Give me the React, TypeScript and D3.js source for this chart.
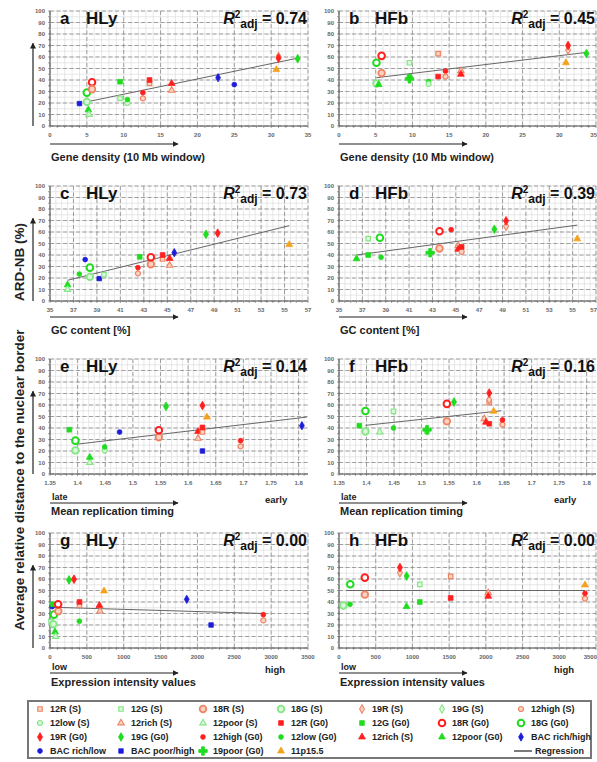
import React from "react";
import * as d3 from "d3";

type Pt = [string, number, number];

// legend order (keys) and the labels printed in the legend
const seriesKeys = [
  "12R (S)", "12G (S)", "18R (S)", "18G (S)", "19R (S)", "19G (S)", "12high (S)",
  "12low (S)", "12rich (S)", "12poor (S)", "12R (G0)", "12G (G0)", "18R (G0)", "18G (G0)",
  "19R (G0)", "19G (G0)", "12high (G0)", "12low (G0)", "12rich (G0)", "12poor (G0)", "BAC rich/high",
  "BAC rich/low", "BAC poor/high", "19poor (G0)", "11p15.5",
];
const legendLabels = [
  "12R (S)", "12G (S)", "18R (S)", "18G (S)", "19R (S)", "19G (S)", "12high (S)",
  "12low (S)", "12rich (S)", "12poor (S)", "12R (G0)", "12G (G0)", "18R (G0)", "18G (G0)",
  "19R (G0)", "19G (G0)", "12high (G0)", "12low (G0)", "12rich (S)", "12poor (G0)", "BAC rich/high",
  "BAC rich/low", "BAC poor/high", "19poor (G0)", "11p15.5",
];

// a: HLy vs gene density
const hlyGene: Pt[] = [
  ["BAC poor/high", 4.0, 19.5], ["18G (G0)", 5.0, 29], ["18G (S)", 5.0, 21],
  ["12poor (G0)", 5.2, 14], ["12poor (S)", 5.3, 10], ["18R (G0)", 5.7, 38], ["18R (S)", 5.7, 32],
  ["12G (S)", 9.5, 24], ["12G (G0)", 9.5, 38.5], ["12low (S)", 10.5, 20], ["12low (G0)", 10.5, 23],
  ["12high (S)", 12.6, 24], ["12high (G0)", 12.6, 29], ["12R (S)", 13.5, 37], ["12R (G0)", 13.5, 40],
  ["12rich (S)", 16.5, 31], ["12rich (G0)", 16.5, 37], ["BAC rich/high", 22.8, 42],
  ["BAC rich/low", 25.0, 36], ["11p15.5", 30.7, 49], ["19R (S)", 31.0, 60.5],
  ["19R (G0)", 31.0, 59], ["19G (G0)", 33.6, 58.5],
];
// b: HFb vs gene density
const hfbGene: Pt[] = [
  ["18G (G0)", 5.1, 55], ["18G (S)", 5.1, 37], ["12poor (G0)", 5.4, 36], ["18R (G0)", 5.8, 61],
  ["18R (S)", 5.8, 46], ["12G (S)", 9.6, 55], ["12G (G0)", 9.6, 42.5], ["19poor (G0)", 9.6, 41],
  ["12low (G0)", 12.2, 38.7], ["12low (S)", 12.2, 36.6], ["12R (S)", 13.5, 63], ["12R (G0)", 13.5, 43],
  ["12high (G0)", 14.5, 47.7], ["12high (S)", 14.5, 43], ["12rich (S)", 16.6, 48],
  ["12rich (G0)", 16.6, 45], ["11p15.5", 30.9, 55], ["19R (S)", 31.2, 66], ["19R (G0)", 31.2, 70],
  ["19G (G0)", 33.7, 63],
];
// c: HLy vs GC content
const hlyGC: Pt[] = [
  ["12poor (G0)", 36.5, 14], ["12poor (S)", 36.5, 10], ["12low (G0)", 37.5, 23.4],
  ["BAC rich/low", 38.0, 36], ["18G (G0)", 38.4, 29], ["18G (S)", 38.4, 21],
  ["BAC poor/high", 39.2, 19.5], ["12G (S)", 39.6, 23], ["12high (S)", 42.5, 24],
  ["12high (G0)", 42.5, 29], ["12G (G0)", 42.65, 38.4], ["18R (S)", 43.6, 32], ["18R (G0)", 43.6, 38],
  ["12R (S)", 44.6, 36.5], ["12R (G0)", 44.6, 40], ["12rich (S)", 45.2, 31], ["12rich (G0)", 45.2, 37],
  ["BAC rich/high", 45.6, 42], ["19G (G0)", 48.3, 58], ["19R (G0)", 49.3, 59], ["11p15.5", 55.4, 49],
];
// d: HFb vs GC content
const hfbGC: Pt[] = [
  ["12poor (G0)", 36.5, 36.7], ["12G (S)", 37.5, 54.3], ["12G (G0)", 37.5, 40],
  ["18G (G0)", 38.5, 55], ["12low (G0)", 38.6, 38], ["19poor (G0)", 42.8, 42],
  ["18R (S)", 43.6, 45.7], ["18R (G0)", 43.6, 60.7], ["12high (G0)", 44.6, 62],
  ["12rich (S)", 45.2, 48], ["12rich (G0)", 45.2, 45], ["12high (S)", 45.5, 42.8],
  ["12R (G0)", 45.5, 47], ["19G (G0)", 48.3, 62.4], ["19R (S)", 49.3, 65], ["19R (G0)", 49.3, 69.7],
  ["11p15.5", 55.4, 54],
];
// e: HLy vs replication timing
const hlyRep: Pt[] = [
  ["12G (G0)", 1.385, 38.5], ["18G (S)", 1.396, 20.5], ["18G (G0)", 1.396, 29],
  ["12poor (S)", 1.422, 10], ["12poor (G0)", 1.422, 14.5], ["12low (S)", 1.449, 20.5],
  ["12low (G0)", 1.449, 23.5], ["BAC rich/low", 1.476, 36.5], ["18R (S)", 1.547, 32],
  ["18R (G0)", 1.547, 38], ["19G (G0)", 1.56, 58.8], ["12rich (S)", 1.618, 31],
  ["12rich (G0)", 1.618, 37], ["12R (S)", 1.626, 36.5], ["12R (G0)", 1.626, 40.5],
  ["19R (G0)", 1.626, 59.5], ["BAC poor/high", 1.626, 20], ["11p15.5", 1.634, 49.5],
  ["12high (S)", 1.695, 24], ["12high (G0)", 1.695, 29], ["BAC rich/high", 1.806, 42],
];
// f: HFb vs replication timing
const hfbRep: Pt[] = [
  ["12G (G0)", 1.387, 42], ["18G (S)", 1.398, 37], ["18G (G0)", 1.398, 54.8],
  ["12poor (S)", 1.424, 36.5], ["12G (S)", 1.449, 54.5], ["12low (G0)", 1.449, 40],
  ["12low (S)", 1.51, 36.5], ["19poor (G0)", 1.51, 38.5], ["18R (S)", 1.546, 45.8],
  ["18R (G0)", 1.546, 61], ["19G (G0)", 1.559, 62.6], ["12rich (S)", 1.614, 48],
  ["12rich (G0)", 1.617, 45], ["12R (G0)", 1.623, 43.7], ["12R (S)", 1.623, 62],
  ["19R (S)", 1.623, 64.5], ["19R (G0)", 1.623, 70.4], ["11p15.5", 1.631, 54.5],
  ["12high (S)", 1.647, 43], ["12high (G0)", 1.647, 47],
];
// g: HLy vs expression intensity
const hlyExpr: Pt[] = [
  ["12G (S)", 14, 23], ["BAC rich/low", 30, 36], ["12G (G0)", 40, 38], ["18G (S)", 45, 20.7],
  ["18G (G0)", 54, 29], ["12poor (G0)", 68, 14], ["12poor (S)", 77, 10], ["18R (S)", 113, 32],
  ["18R (G0)", 110, 38], ["19G (G0)", 258, 59.2], ["19R (G0)", 326, 59.8], ["12low (G0)", 398, 23.3],
  ["12R (S)", 400, 37], ["12R (G0)", 400, 40], ["12rich (S)", 678, 32], ["12rich (G0)", 670, 37],
  ["11p15.5", 733, 49.6], ["BAC rich/high", 1855, 42.3], ["BAC poor/high", 2185, 20],
  ["12high (S)", 2894, 24], ["12high (G0)", 2894, 29],
];
// h: HFb vs expression intensity
const hfbExpr: Pt[] = [
  ["18G (S)", 60, 37], ["12low (G0)", 150, 38], ["18G (G0)", 153, 55.4], ["18R (S)", 352, 46.4],
  ["18R (G0)", 352, 61.2], ["19R (S)", 830, 65.5], ["19R (G0)", 830, 70], ["12poor (G0)", 920, 36],
  ["19G (G0)", 921, 62.6], ["12G (G0)", 1100, 40], ["12G (S)", 1100, 55.4], ["12R (S)", 1521, 62.3],
  ["12R (G0)", 1521, 43.5], ["12rich (S)", 2032, 48], ["12rich (G0)", 2032, 45],
  ["12high (S)", 3350, 43], ["12high (G0)", 3350, 47.5], ["11p15.5", 3350, 54.8],
];

// regression end points per panel
const regA = [[5.0, 21], [33.6, 59]];
const regB = [[5.1, 42], [33.7, 64]];
const regC = [[36.5, 18], [55.4, 65.5]];
const regD = [[36.5, 40], [55.4, 66]];
const regE = [[1.4, 26], [1.815, 49.5]];
const regF = [[1.398, 42.3], [1.645, 55]];
const regG = [[0, 35.5], [2900, 30]];
const regH = [[100, 50], [3350, 50]];

const r2Values = ["0.74", "0.45", "0.73", "0.39", "0.14", "0.16", "0.00", "0.00"];

const yTicks = [0, 10, 20, 30, 40, 50, 60, 70, 80, 90, 100];
const geneTicks = [0, 5, 10, 15, 20, 25, 30, 35];
const gcTicks = [35, 37, 39, 41, 43, 45, 47, 49, 51, 53, 55, 57];
const repTicks = [1.35, 1.4, 1.45, 1.5, 1.55, 1.6, 1.65, 1.7, 1.75, 1.8];
const exprTicks = [0, 500, 1000, 1500, 2000, 2500, 3000, 3500];

const RED = "#ff1f1f", SALMON = "#ee8462", SALMON_F = "#fbd3c3";
const GREEN = "#1fdc1f", LGREEN = "#86e686", LGREEN_F = "#daf8da";
const BLUE = "#1c1cdc", ORANGE = "#f4a21c";

type Sty = { shape: d3.SymbolType; size: number; fill: string; stroke: string; sw: number };
const sty = (shape: d3.SymbolType, size: number, fill: string, stroke: string, sw = 0.8): Sty => ({ shape, size, fill, stroke, sw });
const styles: Record<string, Sty> = {
  "12R (S)": sty(d3.symbolSquare, 20, SALMON_F, SALMON, 1.2),
  "12G (S)": sty(d3.symbolSquare, 20, LGREEN_F, LGREEN, 1.2),
  "18R (S)": sty(d3.symbolCircle, 34, SALMON_F, SALMON, 1.8),
  "18G (S)": sty(d3.symbolCircle, 34, LGREEN_F, LGREEN, 1.8),
  "19R (S)": sty(d3.symbolDiamond, 20, SALMON_F, SALMON, 1.1),
  "19G (S)": sty(d3.symbolDiamond, 20, LGREEN_F, LGREEN, 1.1),
  "12high (S)": sty(d3.symbolCircle, 20, SALMON_F, SALMON, 1.2),
  "12low (S)": sty(d3.symbolCircle, 20, LGREEN_F, LGREEN, 1.2),
  "12rich (S)": sty(d3.symbolTriangle, 18, SALMON_F, SALMON, 1.1),
  "12poor (S)": sty(d3.symbolTriangle, 18, LGREEN_F, LGREEN, 1.1),
  "12R (G0)": sty(d3.symbolSquare, 22, RED, RED),
  "12G (G0)": sty(d3.symbolSquare, 22, GREEN, GREEN),
  "18R (G0)": sty(d3.symbolCircle, 34, "#fff", RED, 2),
  "18G (G0)": sty(d3.symbolCircle, 34, "#fff", GREEN, 2),
  "19R (G0)": sty(d3.symbolDiamond, 22, RED, RED),
  "19G (G0)": sty(d3.symbolDiamond, 22, GREEN, GREEN),
  "12high (G0)": sty(d3.symbolCircle, 18, RED, RED),
  "12low (G0)": sty(d3.symbolCircle, 18, GREEN, GREEN),
  "12rich (G0)": sty(d3.symbolTriangle, 20, RED, RED),
  "12poor (G0)": sty(d3.symbolTriangle, 20, GREEN, GREEN),
  "BAC rich/high": sty(d3.symbolDiamond, 20, BLUE, BLUE),
  "BAC rich/low": sty(d3.symbolCircle, 18, BLUE, BLUE),
  "BAC poor/high": sty(d3.symbolSquare, 20, BLUE, BLUE),
  "19poor (G0)": sty(d3.symbolCross, 40, GREEN, GREEN),
  "11p15.5": sty(d3.symbolTriangle, 20, ORANGE, ORANGE),
};

const FONT = "'Liberation Sans', Arial, Helvetica, sans-serif";
const colX = [[50, 308], [339, 596]];
const rowTop = [11, 186, 359, 533];
const plotH = 115;

type Cfg = {
  letter: string; cell: string; r2: string; data: Pt[]; reg: number[][];
  col: number; row: number; domain: [number, number]; ticks: number[]; minor: number;
  title: string; lowHigh?: [string, string];
};

const rowText = [
  { arrow: 144, title: 161, lh: 0 },
  { arrow: 317, title: 334, lh: 0 },
  { arrow: 503, title: 515, lh: 500 },
  { arrow: 673, title: 686, lh: 670 },
];

const panels: Cfg[] = [
  { letter: "a", cell: "HLy", r2: r2Values[0], data: hlyGene, reg: regA, col: 0, row: 0, domain: [0, 35], ticks: geneTicks, minor: 1, title: "Gene density (10 Mb window)" },
  { letter: "b", cell: "HFb", r2: r2Values[1], data: hfbGene, reg: regB, col: 1, row: 0, domain: [0, 35], ticks: geneTicks, minor: 1, title: "Gene density (10 Mb window)" },
  { letter: "c", cell: "HLy", r2: r2Values[2], data: hlyGC, reg: regC, col: 0, row: 1, domain: [35, 57], ticks: gcTicks, minor: 0.5, title: "GC content [%]" },
  { letter: "d", cell: "HFb", r2: r2Values[3], data: hfbGC, reg: regD, col: 1, row: 1, domain: [35, 57], ticks: gcTicks, minor: 0.5, title: "GC content [%]" },
  { letter: "e", cell: "HLy", r2: r2Values[4], data: hlyRep, reg: regE, col: 0, row: 2, domain: [1.35, 1.817], ticks: repTicks, minor: 0.01, title: "Mean replication timing", lowHigh: ["late", "early"] },
  { letter: "f", cell: "HFb", r2: r2Values[5], data: hfbRep, reg: regF, col: 1, row: 2, domain: [1.35, 1.817], ticks: repTicks, minor: 0.01, title: "Mean replication timing", lowHigh: ["late", "early"] },
  { letter: "g", cell: "HLy", r2: r2Values[6], data: hlyExpr, reg: regG, col: 0, row: 3, domain: [0, 3500], ticks: exprTicks, minor: 100, title: "Expression intensity values", lowHigh: ["low", "high"] },
  { letter: "h", cell: "HFb", r2: r2Values[7], data: hfbExpr, reg: regH, col: 1, row: 3, domain: [0, 3500], ticks: exprTicks, minor: 100, title: "Expression intensity values", lowHigh: ["low", "high"] },
];

function Marker({ k, cx, cy }: { k: string; cx: number; cy: number }) {
  const s = styles[k];
  const d = d3.symbol().type(s.shape).size(s.size)() || "";
  return <path d={d} transform={`translate(${cx},${cy})`} fill={s.fill} stroke={s.stroke} strokeWidth={s.sw} />;
}

function Panel({ p }: { p: Cfg }) {
  const [x0, x1] = colX[p.col];
  const top = rowTop[p.row];
  const bottom = top + plotH;
  const x = d3.scaleLinear().domain(p.domain).range([x0, x1]);
  const y = d3.scaleLinear().domain([0, 100]).range([bottom, top]);
  const minorX = d3.range(p.domain[0], p.domain[1] + 1e-9, p.minor);
  const minorY = d3.range(0, 100.001, 5);
  const line = d3.line<number[]>().x(d => x(d[0])).y(d => y(d[1]));
  const rt = rowText[p.row];
  return (
    <g fontFamily={FONT}>
      {minorX.map((v, i) => <line key={"mx" + i} x1={x(v)} x2={x(v)} y1={top} y2={bottom} stroke="#d9d9d9" strokeWidth={0.6} />)}
      {minorY.map((v, i) => <line key={"my" + i} x1={x0} x2={x1} y1={y(v)} y2={y(v)} stroke="#d9d9d9" strokeWidth={0.6} />)}
      {p.ticks.map((v, i) => <line key={"gx" + i} x1={x(v)} x2={x(v)} y1={top} y2={bottom} stroke="#8c8c8c" strokeWidth={0.8} strokeDasharray="4,2.5" />)}
      {yTicks.map((v, i) => <line key={"gy" + i} x1={x0} x2={x1} y1={y(v)} y2={y(v)} stroke="#8c8c8c" strokeWidth={0.8} strokeDasharray="4,2.5" />)}
      {/* axes */}
      <line x1={x0} x2={x0} y1={top} y2={bottom} stroke="#555" strokeWidth={1} />
      <line x1={x0} x2={x1} y1={bottom} y2={bottom} stroke="#555" strokeWidth={1} />
      {minorX.map((v, i) => <line key={"tx" + i} x1={x(v)} x2={x(v)} y1={bottom} y2={bottom + 2} stroke="#666" strokeWidth={0.6} />)}
      {minorY.map((v, i) => <line key={"ty" + i} x1={x0 - 2} x2={x0} y1={y(v)} y2={y(v)} stroke="#666" strokeWidth={0.6} />)}
      {yTicks.map((v, i) => (
        <text key={"yl" + i} x={x0 - 5} y={y(v) + 2} fontSize={6} fontWeight="bold" fill="#666" textAnchor="end">{v}</text>
      ))}
      {p.ticks.map((v, i) => {
        const last = p.col === 1 && x(v) > 590;
        return (
          <text key={"xl" + i} x={last ? 597 : x(v)} y={bottom + 11} fontSize={6} fontWeight="bold" fill="#666" textAnchor={last ? "end" : "middle"}>{String(v)}</text>
        );
      })}
      {/* regression */}
      <path d={line(p.reg) || ""} stroke="#666" strokeWidth={1} fill="none" />
      {p.data.map((d, i) => <Marker key={"pt" + i} k={d[0]} cx={x(d[1])} cy={y(d[2])} />)}
      {/* labels */}
      <text x={x0 + 10} y={top + 13} fontSize={17} fontWeight="bold" fill="#111">{p.letter}</text>
      <text x={x0 + 36} y={top + 13} fontSize={17} fontWeight="bold" fill="#111">{p.cell}</text>
      <text x={x1 - 1} y={top + 13} fontSize={16} fontWeight="bold" fill="#111" textAnchor="end">
        <tspan fontStyle="italic">R</tspan>
        <tspan dy={-6} fontSize={10}>2</tspan>
        <tspan dy={10} fontSize={12}>adj</tspan>
        <tspan dy={-4}>{" = " + p.r2}</tspan>
      </text>
      {p.col === 0 && (
        <line x1={33} x2={33} y1={bottom} y2={y(72)} stroke="#222" strokeWidth={1.2} markerEnd="url(#ah)" />
      )}
      <line x1={x0} x2={x0 + 128} y1={rt.arrow} y2={rt.arrow} stroke="#222" strokeWidth={1.2} markerEnd="url(#ah)" />
      {p.lowHigh && (
        <>
          <text x={x0 + 2} y={rt.lh} fontSize={9} fontWeight="bold" fill="#222">{p.lowHigh[0]}</text>
          <text x={x0 + 215} y={rt.lh + 3} fontSize={9.5} fontWeight="bold" fill="#222">{p.lowHigh[1]}</text>
        </>
      )}
      <text x={x0 + 1} y={rt.title} fontSize={11} fontWeight="bold" fill="#222">{p.title}</text>
    </g>
  );
}

function Legend() {
  const mx = [40, 121, 203, 281, 362, 442, 521];
  const ry = [709, 723, 737, 751];
  return (
    <g fontFamily={FONT}>
      <rect x={28} y={701} width={563} height={57} fill="#fff" stroke="#777" strokeWidth={2} />
      {seriesKeys.map((k, i) => {
        const c = i % 7, r = Math.floor(i / 7);
        return (
          <g key={k}>
            <Marker k={k} cx={mx[c]} cy={ry[r]} />
            <text x={mx[c] + 10} y={ry[r] + 3.2} fontSize={9} fontWeight="bold" fill="#222">{legendLabels[i]}</text>
          </g>
        );
      })}
      <line x1={514} x2={532} y1={ry[3]} y2={ry[3]} stroke="#222" strokeWidth={1.2} />
      <text x={535} y={ry[3] + 3.2} fontSize={9} fontWeight="bold" fill="#222">Regression</text>
    </g>
  );
}

export default function App() {
  return (
    <div style={{ position: "absolute", left: 0, top: 0 }}>
      <svg width={597} height={762} style={{ display: "block", background: "#fff" }}>
        <defs>
          <marker id="ah" viewBox="0 0 10 10" refX={9} refY={5} markerWidth={5} markerHeight={5} orient="auto">
            <path d="M0,0L10,5L0,10z" fill="#222" />
          </marker>
        </defs>
        {panels.map(p => <Panel key={p.letter} p={p} />)}
        <text transform="translate(24,480) rotate(-90)" textAnchor="middle" fontFamily={FONT} fontSize={13.5} fontWeight="bold" fill="#222">
          Average relative distance to the nuclear border
        </text>
        <text transform="translate(24,262) rotate(-90)" textAnchor="middle" fontFamily={FONT} fontSize={13.5} fontWeight="bold" fill="#222">
          ARD-NB (%)
        </text>
        <Legend />
      </svg>
    </div>
  );
}
